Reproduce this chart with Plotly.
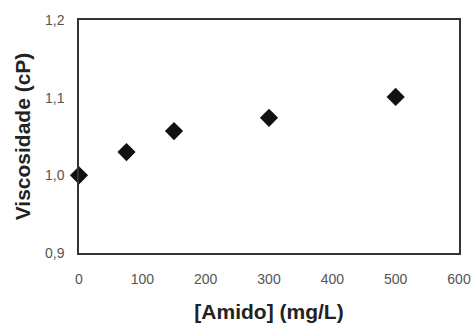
import plotly.graph_objects as go

amido = [0, 75, 150, 300, 500]
viscosidade = [1.000, 1.030, 1.057, 1.074, 1.101]
x_ticks = [0, 100, 200, 300, 400, 500, 600]
y_ticks = [0.9, 1.0, 1.1, 1.2]

fig = go.Figure()
fig.add_trace(go.Scatter(
    x=amido, y=viscosidade, mode="markers",
    marker=dict(symbol="diamond", size=14, color="#111111"),
    cliponaxis=False, showlegend=False,
))

font_fam = "Liberation Sans, Arial, sans-serif"
fig.update_layout(
    width=473, height=323,
    margin=dict(l=79, r=14, t=20, b=70),
    paper_bgcolor="white", plot_bgcolor="white",
    separators=",.",
    font=dict(family=font_fam, color="#333333"),
    xaxis=dict(
        range=[0, 600], tickvals=x_ticks, ticks="", showgrid=False, zeroline=False,
        showline=True, linecolor="#333333", linewidth=1.5, mirror=True, automargin=False,
        tickfont=dict(size=14, color="#555555"), ticklabelstandoff=12,
        title=dict(text="<b>[Amido] (mg/L)</b>", font=dict(size=21, color="#222222"), standoff=23),
    ),
    yaxis=dict(
        range=[0.9, 1.2], tickvals=y_ticks, tickformat=".1f", ticks="", showgrid=False, zeroline=False,
        showline=True, linecolor="#333333", linewidth=1.5, mirror=True, automargin=False,
        tickfont=dict(size=14, color="#555555"), ticklabelstandoff=10,
        title=dict(text="<b>Viscosidade (cP)</b>", font=dict(size=21, color="#222222"), standoff=9),
    ),
)
fig.write_html(
    "out.html",
    config={"displayModeBar": False},
    post_script="document.body.style.margin='0';document.body.style.padding='0';",
)
